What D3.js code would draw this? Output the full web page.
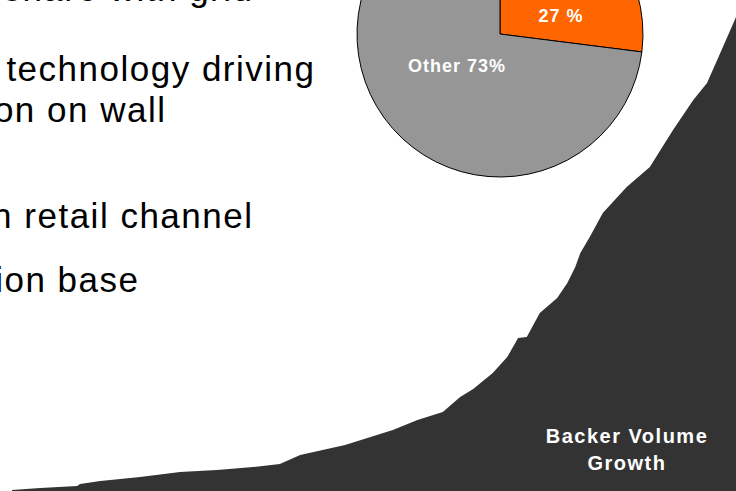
<!DOCTYPE html>
<html>
<head>
<meta charset="utf-8">
<script src="https://cdn.jsdelivr.net/npm/d3@7"></script>
<style>
html,body{margin:0;padding:0;background:#fff;overflow:hidden;}
svg{display:block;}
</style>
</head>
<body>
<svg id="chart" width="736" height="491"></svg>
<script>
// ---- data ----
const pieLabels = ["27 %", "Other 73%"];
const pieValues = [27, 73];
const pieColors = ["#FF6600", "#969696"];

// growth curve (period index, volume)
const periods = [0, 3.9, 9.0, 9.4, 12.2, 17.7, 23.2, 28.3, 33.3, 37.0, 39.8, 46.0, 52.6, 56.0, 59.5, 61.9, 63.7, 66.4, 68.4, 69.9, 71.1, 72.9, 75.3, 76.7, 77.8, 78.5, 79.8, 81.6, 84.9, 88.1, 91.3, 94.1, 96.0, 98.8, 100];
const volume  = [1, 3, 5, 7, 10, 14, 19, 21, 24, 27, 36, 46, 61, 71, 79, 94, 102, 118, 134, 153, 154, 178, 193, 208, 224, 238, 254, 278, 304, 324, 361, 391, 408, 454, 474];

const bullets = ["ry share with grid", "technology driving", "on on wall", "n retail channel", "ion base"];
const areaLabel = ["Backer Volume", "Growth"];

// ---- drawing ----
const svg = d3.select("#chart");
const font = "Liberation Sans, Arial, sans-serif";

// area chart
const x = d3.scaleLinear().domain([0, 100]).range([12, 736]);
const y = d3.scaleLinear().domain([0, 474]).range([491, 17]);
const data = periods.map((p, i) => ({p, v: volume[i]}));
const area = d3.area()
  .x(d => x(d.p))
  .y0(y(0))
  .y1(d => y(d.v))
  .curve(d3.curveLinear);
svg.append("path")
  .datum(data)
  .attr("d", area)
  .attr("fill", "#333333");

// pie chart
const cx = 500, cy = 34, r = 143;
const pie = d3.pie().sort(null).startAngle(0).endAngle(2 * Math.PI);
const arcs = pie(pieValues);
const arc = d3.arc().innerRadius(0).outerRadius(r);
const g = svg.append("g").attr("transform", `translate(${cx},${cy})`);
g.selectAll("path.slice")
  .data(arcs)
  .join("path")
  .attr("class", "slice")
  .attr("d", arc)
  .attr("fill", (d, i) => pieColors[i])
  .attr("stroke", "#000")
  .attr("stroke-width", 1);

const labelPos = [[61, -12], [-43, 38]];
g.selectAll("text.plabel")
  .data(pieLabels)
  .join("text")
  .attr("class", "plabel")
  .attr("x", (d, i) => labelPos[i][0])
  .attr("y", (d, i) => labelPos[i][1])
  .attr("text-anchor", "middle")
  .attr("fill", "#fff")
  .attr("font-family", font)
  .attr("font-weight", "bold")
  .attr("font-size", 18)
  .attr("letter-spacing", 1)
  .text(d => d);

// bullet text (cropped on the left)
const bulletEnd = [252, 314, 165, 252, 138];
const bulletBase = [1, 81, 122, 228, 292];
const ls = 1.5;
svg.selectAll("text.bullet")
  .data(bullets)
  .join("text")
  .attr("class", "bullet")
  .attr("x", (d, i) => bulletEnd[i] + ls)
  .attr("y", (d, i) => bulletBase[i])
  .attr("text-anchor", "end")
  .attr("fill", "#000")
  .attr("font-family", font)
  .attr("font-size", 35)
  .attr("letter-spacing", ls)
  .text(d => d);

// area label
svg.selectAll("text.alabel")
  .data(areaLabel)
  .join("text")
  .attr("class", "alabel")
  .attr("x", 627)
  .attr("y", (d, i) => 443 + i * 27)
  .attr("text-anchor", "middle")
  .attr("fill", "#fff")
  .attr("font-family", font)
  .attr("font-weight", "bold")
  .attr("font-size", 20)
  .attr("letter-spacing", 1.5)
  .text(d => d);
</script>
</body>
</html>
